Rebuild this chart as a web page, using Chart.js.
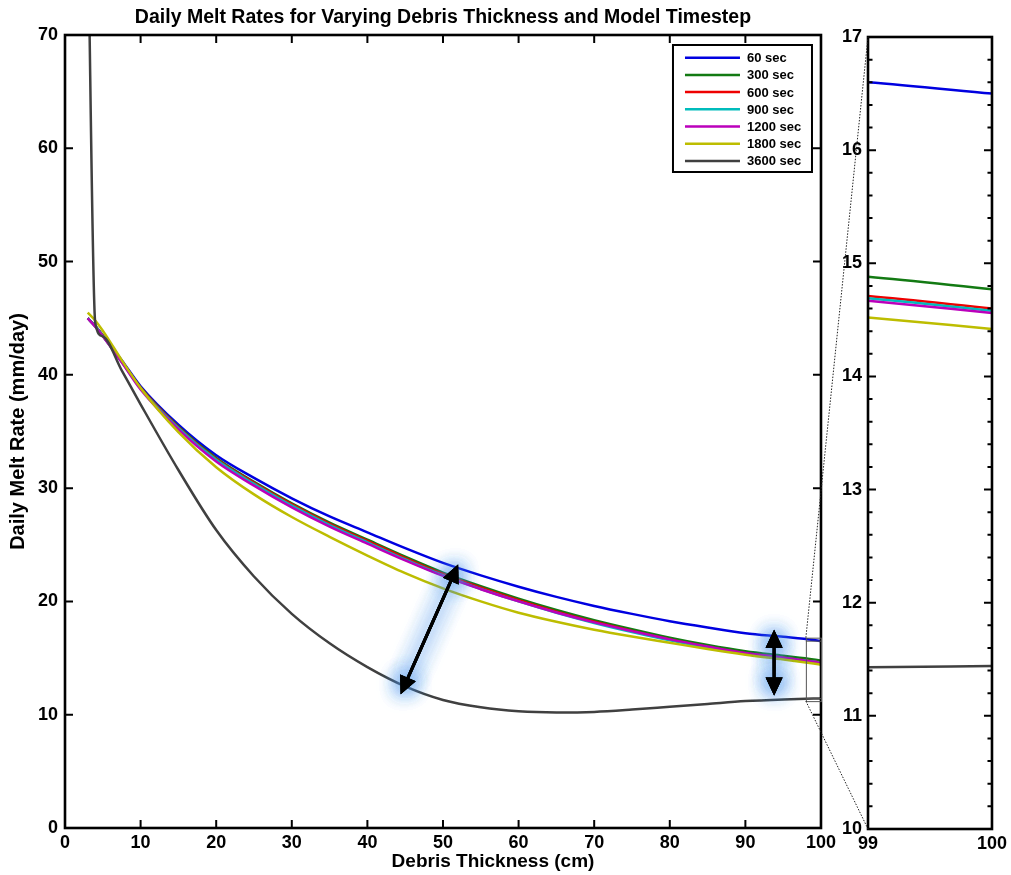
<!doctype html>
<html lang="en">
<head>
<meta charset="utf-8">
<title>Daily Melt Rates for Varying Debris Thickness and Model Timestep</title>
<style>
  * { margin: 0; padding: 0; }
  body { background: #fff; width: 1011px; height: 875px; overflow: hidden; }
  #wrap { position: relative; width: 1011px; height: 875px; }
  canvas { position: absolute; top: 0; }
  #mainChart { left: 0; }
  #zoomChart { left: 840px; }
  #overlay { left: 0; pointer-events: none; }
</style>
</head>
<body>
<div id="wrap">
  <canvas id="mainChart" width="840" height="875"></canvas>
  <canvas id="zoomChart" width="171" height="875"></canvas>
  <canvas id="overlay" width="1011" height="875"></canvas>
</div>
<script src="https://cdn.jsdelivr.net/npm/chart.js"></script>
<script>
// debris thickness (cm)
const thickness = [3, 4, 5, 7.5, 10, 15, 20, 25, 30, 35, 40, 45, 50, 55, 60, 65, 70, 75, 80, 85, 90, 95, 99, 100];

// daily melt rate (mm/day) for each model timestep
const melt60   = [45.0, 44.3, 43.5, 41.3, 39.0, 35.6, 32.9, 30.9, 29.1, 27.5, 26.1, 24.7, 23.4, 22.3, 21.3, 20.4, 19.6, 18.9, 18.25, 17.7, 17.2, 16.88, 16.6, 16.5];
const melt300  = [45.0, 44.3, 43.45, 41.2, 38.88, 35.42, 32.65, 30.55, 28.65, 26.95, 25.45, 23.95, 22.55, 21.35, 20.25, 19.25, 18.35, 17.55, 16.8, 16.15, 15.6, 15.2, 14.88, 14.77];
const melt600  = [45.0, 44.3, 43.45, 41.18, 38.85, 35.37, 32.58, 30.47, 28.56, 26.85, 25.34, 23.83, 22.42, 21.21, 20.11, 19.1, 18.2, 17.39, 16.64, 15.98, 15.43, 15.03, 14.71, 14.6];
const melt900  = [45.0, 44.3, 43.43, 41.15, 38.8, 35.3, 32.5, 30.38, 28.45, 26.74, 25.22, 23.7, 22.3, 21.1, 20.0, 19.0, 18.1, 17.3, 16.57, 15.93, 15.39, 15.0, 14.69, 14.58];
const melt1200 = [45.0, 44.25, 43.4, 41.1, 38.7, 35.18, 32.35, 30.22, 28.3, 26.6, 25.1, 23.62, 22.25, 21.08, 20.0, 19.02, 18.15, 17.38, 16.65, 16.02, 15.44, 15.04, 14.67, 14.56];
const melt1800 = [45.5, 44.8, 43.9, 41.3, 38.85, 34.95, 31.85, 29.45, 27.45, 25.7, 24.05, 22.5, 21.15, 20.0, 19.0, 18.2, 17.5, 16.9, 16.35, 15.8, 15.3, 14.88, 14.52, 14.42];
const melt3600 = [81.0, 44.6, 43.4, 40.4, 37.4, 31.6, 26.3, 22.2, 18.9, 16.3, 14.2, 12.5, 11.3, 10.65, 10.3, 10.2, 10.25, 10.45, 10.7, 10.95, 11.2, 11.35, 11.43, 11.44];

const seriesLabels = ['60 sec', '300 sec', '600 sec', '900 sec', '1200 sec', '1800 sec', '3600 sec'];
const seriesValues = [melt60, melt300, melt600, melt900, melt1200, melt1800, melt3600];
const seriesColors = ['#0000e0', '#137a13', '#ee0000', '#00bcbc', '#bb00bb', '#bdbd00', '#404040'];

// double arrows marking the spread between timesteps (data units)
const spreadArrows = [
  { x1: 44.4, y1: 11.8, x2: 52.0, y2: 23.25 },
  { x1: 93.8, y1: 11.7, x2: 93.8, y2: 17.5 }
];
// region shown enlarged in the side panel
const zoomBox = { x0: 98, x1: 100, y0: 11.2, y1: 16.8 };

const FONT = '"Liberation Sans", Arial, sans-serif';
const tickFont = { family: FONT, size: 18, weight: 'bold' };

function makeDatasets() {
  return seriesValues.map((vals, i) => ({
    label: seriesLabels[i],
    data: thickness.map((t, j) => ({ x: t, y: vals[j] })),
    borderColor: seriesColors[i],
    backgroundColor: seriesColors[i],
    borderWidth: 2.5,
    pointRadius: 0,
    cubicInterpolationMode: 'monotone',
    order: seriesValues.length - i,
    clip: 0
  }));
}

// box round the plot with inward ticks on all four sides
const boxAxes = {
  id: 'boxAxes',
  afterDatasetsDraw(chart, args, opts) {
    const { ctx, chartArea: { left, right, top, bottom }, scales: { x, y } } = chart;
    const len = 8, minorLen = 4.5;
    ctx.save();
    ctx.strokeStyle = '#000';
    ctx.lineWidth = 2;
    ctx.beginPath();
    x.ticks.forEach(t => {
      const px = x.getPixelForValue(t.value);
      ctx.moveTo(px, bottom); ctx.lineTo(px, bottom - len);
      ctx.moveTo(px, top); ctx.lineTo(px, top + len);
    });
    y.ticks.forEach(t => {
      const py = y.getPixelForValue(t.value);
      ctx.moveTo(left, py); ctx.lineTo(left + len, py);
      ctx.moveTo(right, py); ctx.lineTo(right - len, py);
    });
    if (opts.minorStep) {
      for (let v = y.min; v < y.max; v += opts.minorStep) {
        const py = y.getPixelForValue(v);
        ctx.moveTo(left, py); ctx.lineTo(left + minorLen, py);
        ctx.moveTo(right, py); ctx.lineTo(right - minorLen, py);
      }
    }
    ctx.stroke();
    ctx.lineWidth = 2.6;
    ctx.strokeRect(left, top, right - left, bottom - top);
    ctx.restore();
  }
};

function drawArrow(ctx, x1, y1, x2, y2) {
  const ang = Math.atan2(y2 - y1, x2 - x1);
  const head = 18, half = 8.5;
  const cos = Math.cos(ang), sin = Math.sin(ang);
  ctx.beginPath();
  ctx.moveTo(x1 + cos * head * 0.8, y1 + sin * head * 0.8);
  ctx.lineTo(x2 - cos * head * 0.8, y2 - sin * head * 0.8);
  ctx.stroke();
  [[x2, y2, 1], [x1, y1, -1]].forEach(([tx, ty, d]) => {
    const bx = tx - d * cos * head, by = ty - d * sin * head;
    ctx.beginPath();
    ctx.moveTo(tx, ty);
    ctx.lineTo(bx - sin * half, by + cos * half);
    ctx.lineTo(bx + sin * half, by - cos * half);
    ctx.closePath();
    ctx.fill();
  });
}

const mainExtras = {
  id: 'mainExtras',
  afterDatasetsDraw(chart) {
    const { ctx, scales: { x, y } } = chart;
    ctx.save();
    // outline of the enlarged region
    const bx0 = x.getPixelForValue(zoomBox.x0), bx1 = x.getPixelForValue(zoomBox.x1);
    const byT = y.getPixelForValue(zoomBox.y1), byB = y.getPixelForValue(zoomBox.y0);
    ctx.strokeStyle = '#555';
    ctx.lineWidth = 1;
    ctx.strokeRect(bx0 + 0.5, byT + 0.5, bx1 - bx0, byB - byT);
    ctx.beginPath();
    ctx.moveTo(bx0, byT + 3.5); ctx.lineTo(bx1, byT + 3.5);
    ctx.moveTo(bx0, byB - 2.5); ctx.lineTo(bx1, byB - 2.5);
    ctx.stroke();

    // glowing arrows
    ctx.strokeStyle = '#000';
    ctx.fillStyle = '#000';
    ctx.lineWidth = 3;
    ctx.lineCap = 'round';
    spreadArrows.forEach(a => {
      const p1 = [x.getPixelForValue(a.x1), y.getPixelForValue(a.y1)];
      const p2 = [x.getPixelForValue(a.x2), y.getPixelForValue(a.y2)];
      ctx.shadowColor = 'rgba(70,145,235,0.9)';
      ctx.shadowBlur = 20;
      for (let k = 0; k < 3; k++) drawArrow(ctx, p1[0], p1[1], p2[0], p2[1]);
      ctx.shadowBlur = 0;
      ctx.shadowColor = 'transparent';
      drawArrow(ctx, p1[0], p1[1], p2[0], p2[1]);
    });
    ctx.restore();
  },
  afterDraw(chart) {
    const { ctx, chartArea: { left, right, top, bottom } } = chart;
    ctx.save();
    ctx.fillStyle = '#000';
    ctx.textAlign = 'center';
    ctx.textBaseline = 'middle';
    ctx.font = 'bold 19.5px ' + FONT;
    ctx.fillText('Daily Melt Rates for Varying Debris Thickness and Model Timestep', (left + right) / 2, 18);
    ctx.font = 'bold 19px ' + FONT;
    ctx.fillText('Debris Thickness (cm)', (left + right) / 2 + 50, 862);

    // legend in the upper right corner
    const lw = 139, lh = 127;
    const lx = right - 148, ly = top + 10;
    ctx.fillStyle = '#fff';
    ctx.fillRect(lx, ly, lw, lh);
    ctx.strokeStyle = '#000';
    ctx.lineWidth = 2;
    ctx.strokeRect(lx, ly, lw, lh);
    ctx.font = 'bold 13px ' + FONT;
    ctx.textAlign = 'left';
    seriesLabels.forEach((label, i) => {
      const ry = ly + 12.7 + i * 17.2;
      ctx.strokeStyle = seriesColors[i];
      ctx.lineWidth = 2.5;
      ctx.beginPath();
      ctx.moveTo(lx + 12, ry);
      ctx.lineTo(lx + 67, ry);
      ctx.stroke();
      ctx.fillStyle = '#000';
      ctx.fillText(label, lx + 74, ry + 1);
    });
    ctx.restore();
  }
};

const mainChart = new Chart(document.getElementById('mainChart'), {
  type: 'line',
  data: { datasets: makeDatasets() },
  options: {
    responsive: false,
    animation: false,
    devicePixelRatio: 1,
    layout: { padding: { top: 35, right: 18, left: 0, bottom: 0 } },
    plugins: { legend: { display: false }, tooltip: { enabled: false } },
    scales: {
      x: {
        type: 'linear', min: 0, max: 100,
        ticks: { stepSize: 10, font: tickFont, color: '#000', padding: 4, maxRotation: 0 },
        grid: { display: false, drawTicks: false },
        border: { display: false },
        afterFit: s => { s.height = 47; }
      },
      y: {
        min: 0, max: 70,
        ticks: { stepSize: 10, font: tickFont, color: '#000', padding: 7 },
        grid: { display: false, drawTicks: false },
        border: { display: false },
        title: {
          display: true, text: 'Daily Melt Rate (mm/day)', color: '#000',
          font: { family: FONT, size: 20, weight: 'bold' }, padding: { top: 6, bottom: 0 }
        },
        afterFit: s => { s.width = 65; }
      }
    }
  },
  plugins: [boxAxes, mainExtras]
});

const zoomChart = new Chart(document.getElementById('zoomChart'), {
  type: 'line',
  data: { datasets: makeDatasets() },
  options: {
    responsive: false,
    animation: false,
    devicePixelRatio: 1,
    layout: { padding: { top: 37, right: 18, left: 0, bottom: 0 } },
    plugins: { legend: { display: false }, tooltip: { enabled: false }, boxAxes: { minorStep: 0.2 } },
    scales: {
      x: {
        type: 'linear', min: 99, max: 100,
        ticks: { stepSize: 1, font: tickFont, color: '#000', padding: 4, maxRotation: 0 },
        grid: { display: false, drawTicks: false },
        border: { display: false },
        afterFit: s => { s.height = 46; }
      },
      y: {
        min: 10, max: 17,
        ticks: { stepSize: 1, font: tickFont, color: '#000', padding: 6 },
        grid: { display: false, drawTicks: false },
        border: { display: false },
        afterFit: s => { s.width = 28; }
      }
    }
  },
  plugins: [boxAxes]
});

// dotted connectors from the outlined region to the side panel
(function drawConnectors() {
  const ctx = document.getElementById('overlay').getContext('2d');
  const mx = mainChart.scales.x, my = mainChart.scales.y;
  const bx = mx.getPixelForValue(zoomBox.x0);
  const byT = my.getPixelForValue(zoomBox.y1), byB = my.getPixelForValue(zoomBox.y0);
  const zoff = document.getElementById('zoomChart').offsetLeft;
  const za = zoomChart.chartArea;
  ctx.strokeStyle = '#222';
  ctx.lineWidth = 1;
  ctx.setLineDash([1.5, 1.5]);
  ctx.beginPath();
  ctx.moveTo(bx, byT); ctx.lineTo(zoff + za.left, za.top);
  ctx.moveTo(bx, byB); ctx.lineTo(zoff + za.left, za.bottom);
  ctx.stroke();
})();
</script>
</body>
</html>
